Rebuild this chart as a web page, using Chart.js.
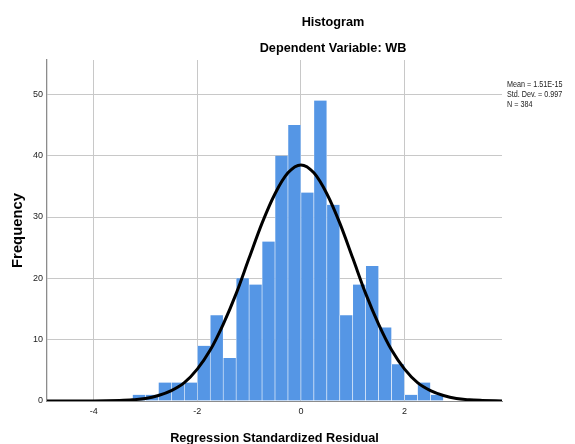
<!DOCTYPE html>
<html>
<head>
<meta charset="utf-8">
<script src="https://cdn.jsdelivr.net/npm/chart.js@4"></script>
<style>
  body { margin: 0; background: #fff; }
</style>
</head>
<body>
<canvas id="histChart" width="575" height="444"></canvas>
<script>
// bin centres (width 0.25) and counts
const binCenters = [-3.125, -2.875, -2.625, -2.375, -2.125, -1.875, -1.625, -1.375, -1.125, -0.875,
  -0.625, -0.375, -0.125, 0.125, 0.375, 0.625, 0.875, 1.125, 1.375, 1.625, 1.875, 2.125, 2.375, 2.625];
const binCounts = [1, 1, 3, 3, 3, 9, 14, 7, 20, 19,
  26, 40, 45, 34, 49, 32, 14, 19, 22, 12, 6, 1, 3, 1];

// normal curve
const curveX = [-4.9, -4.5, -4, -3.5, -3.25, -3, -2.75, -2.5, -2.25, -2, -1.75, -1.5, -1.25, -1, -0.75, -0.5, -0.25,
  0, 0.25, 0.5, 0.75, 1, 1.25, 1.5, 1.75, 2, 2.25, 2.5, 2.75, 3, 3.25, 3.5, 3.88];
const curveY = [0, 0, 0.01, 0.1, 0.2, 0.4, 0.9, 1.7, 3.0, 5.2, 8.3, 12.5, 17.5, 23.3, 29.0, 33.8, 37.2,
  38.5, 37.2, 33.8, 29.0, 23.3, 17.5, 12.5, 8.3, 5.2, 3.0, 1.7, 0.9, 0.4, 0.2, 0.1, 0];

const xTicks = [-4, -2, 0, 2];
const yTicks = [0, 10, 20, 30, 40, 50];
const titleLines = ["Histogram", "Dependent Variable: WB"];
const statLines = ["Mean = 1.51E-15", "Std. Dev. = 0.997", "N = 384"];

const sans = "'Liberation Sans', Arial, sans-serif";

const textPlugin = {
  id: "spssText",
  afterDraw(chart) {
    const ctx = chart.ctx;
    ctx.save();
    ctx.fillStyle = "#000";
    ctx.textBaseline = "middle";
    ctx.textAlign = "center";
    ctx.font = "bold 12.7px " + sans;
    ctx.fillText(titleLines[0], 333, 22);
    ctx.fillText(titleLines[1], 333, 48);
    ctx.textAlign = "left";
    ctx.font = "9px " + sans;
    ctx.fillStyle = "#222";
    statLines.forEach((s, i) => {
      ctx.save();
      ctx.translate(507, 85 + i * 9.7);
      ctx.scale(0.8, 1);
      ctx.fillText(s, 0, 0);
      ctx.restore();
    });
    ctx.restore();
  }
};

new Chart(document.getElementById("histChart"), {
  type: "bar",
  data: {
    datasets: [
      {
        type: "line",
        data: curveX.map((x, i) => ({ x, y: curveY[i] })),
        borderColor: "#000",
        borderWidth: 3,
        pointRadius: 0,
        cubicInterpolationMode: "monotone",
        fill: false,
        order: 0
      },
      {
        type: "bar",
        data: binCenters.map((x, i) => ({ x, y: binCounts[i] })),
        backgroundColor: "rgb(85,150,229)",
        borderColor: "rgba(255,255,255,0.8)",
        borderWidth: { left: 0.6, right: 0.6, top: 0, bottom: 0 },
        barPercentage: 1,
        categoryPercentage: 1,
        order: 1
      }
    ]
  },
  options: {
    responsive: false,
    animation: false,
    layout: { padding: { left: 0, right: 73, top: 60, bottom: 0 } },
    plugins: { legend: { display: false }, tooltip: { enabled: false } },
    scales: {
      x: {
        type: "linear",
        offset: false,
        min: -4.9,
        max: 3.88,
        afterFit: s => { s.height = 43; },
        afterBuildTicks: s => { s.ticks = xTicks.map(v => ({ value: v })); },
        ticks: { font: { family: sans, size: 9 }, color: "#222", padding: 5, maxRotation: 0 },
        grid: { color: "#c8c8c8", drawTicks: false, offset: false },
        border: { color: "#8c8c8c", width: 1 },
        title: {
          display: true,
          text: "Regression Standardized Residual",
          font: { family: sans, size: 12.7, weight: "bold" },
          color: "#000",
          padding: { top: 0, bottom: -2 }
        }
      },
      y: {
        min: 0,
        max: 55.6,
        afterFit: s => { s.width = 47; },
        afterBuildTicks: s => { s.ticks = yTicks.map(v => ({ value: v })); },
        ticks: { font: { family: sans, size: 9 }, color: "#222", padding: 4 },
        grid: { color: "#c8c8c8", drawTicks: false },
        border: { color: "#8c8c8c", width: 1.3 },
        title: {
          display: true,
          text: "Frequency",
          font: { family: sans, size: 14.8, weight: "bold" },
          color: "#000",
          padding: { top: 9, bottom: 0 }
        }
      }
    }
  },
  plugins: [textPlugin]
});
</script>
</body>
</html>
